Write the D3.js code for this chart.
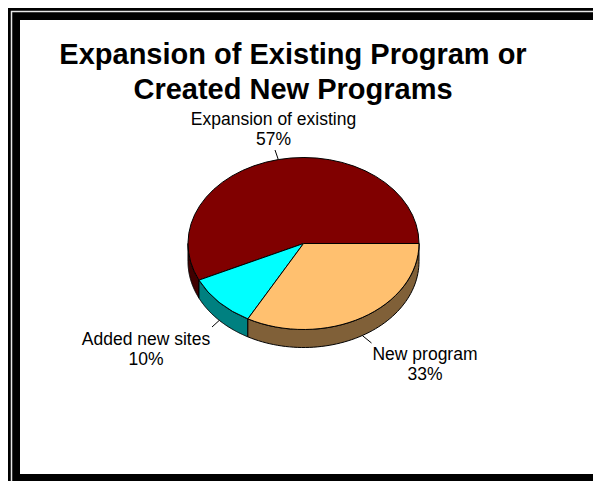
<!DOCTYPE html>
<html>
<head>
<meta charset="utf-8">
<script src="https://cdn.jsdelivr.net/npm/d3@7"></script>
<style>
  html, body { margin: 0; padding: 0; background: #fff; }
  svg { display: block; }
  text { font-family: "Liberation Sans", Arial, sans-serif; }
</style>
</head>
<body>
<script>
// Survey result: how programs grew
const categories = ["Expansion of existing", "Added new sites", "New program"];
const values = [57, 10, 33];
const percentLabels = ["57%", "10%", "33%"];
const titleLines = ["Expansion of Existing Program or", "Created New Programs"];
const topColors = ["#800000", "#00FFFF", "#FFC06F"];
const sideColors = ["#400000", "#008080", "#806038"];

const W = 593, H = 481;
const svg = d3.select("body").append("svg").attr("width", W).attr("height", H);

// Double frame around the chart area
svg.append("rect").attr("x", 8).attr("y", 8).attr("width", W + 20).attr("height", H + 20).attr("fill", "#000");
svg.append("rect").attr("x", 11.5).attr("y", 11.5).attr("width", W + 20).attr("height", H + 20)
  .attr("fill", "none").attr("stroke", "#e8e8e8").attr("stroke-width", 1.5);
svg.append("rect").attr("x", 20).attr("y", 20).attr("width", W - 20).attr("height", 454).attr("fill", "#fff");

// Title
svg.append("g").selectAll("text").data(titleLines).join("text")
  .attr("x", 293).attr("y", (d, i) => 64 + i * 35)
  .attr("text-anchor", "middle")
  .attr("font-size", "29px").attr("font-weight", "bold").attr("fill", "#000")
  .text(d => d);

// 3D pie geometry
const cx = 303.5, cy = 243.5, rx = 115.5, ry = 86, depth = 18;

// Slices run counter-clockwise from 3 o'clock
const pie = d3.pie().sort(null).value(d => d)
  .startAngle(Math.PI / 2).endAngle(Math.PI / 2 - 2 * Math.PI);
const arcs = pie(values);

const pt = (a, dy) => [cx + rx * Math.sin(a), cy - ry * Math.cos(a) + dy];

// Side walls: only the front half of the rim is visible
const sideG = svg.append("g");
arcs.forEach((d, i) => {
  const lo = Math.min(d.startAngle, d.endAngle), hi = Math.max(d.startAngle, d.endAngle);
  const a0 = Math.max(lo, -3 * Math.PI / 2), a1 = Math.min(hi, -Math.PI / 2);
  if (a1 <= a0) return;
  const n = 60;
  const angles = d3.range(n + 1).map(k => a0 + (a1 - a0) * k / n);
  const pts = angles.map(a => pt(a, 0)).concat(angles.slice().reverse().map(a => pt(a, depth)));
  sideG.append("path")
    .attr("d", d3.line()(pts) + "Z")
    .attr("fill", sideColors[i]).attr("stroke", "#000").attr("stroke-width", 1)
    .attr("stroke-linejoin", "round");
});

// Top faces: circular arcs squashed into an ellipse
const arcGen = d3.arc().innerRadius(0).outerRadius(rx);
svg.append("g").attr("transform", `translate(${cx},${cy}) scale(1,${ry / rx})`)
  .selectAll("path").data(arcs).join("path")
  .attr("d", arcGen)
  .attr("fill", (d, i) => topColors[i])
  .attr("stroke", "#000").attr("stroke-width", 1)
  .attr("vector-effect", "non-scaling-stroke")
  .attr("stroke-linejoin", "round");

// Data labels with short leader lines
const labelPos = [
  { x: 273.5, y: 125, lx: 275, ly: 150 },
  { x: 146, y: 345, lx: 212, ly: 327 },
  { x: 425, y: 360, lx: 371.5, ly: 343 }
];
const labelG = svg.append("g");
arcs.forEach((d, i) => {
  const mid = (d.startAngle + d.endAngle) / 2;
  const front = Math.cos(mid) < 0;
  const anchor = pt(mid, front ? depth : 0);
  const p = labelPos[i];
  labelG.append("line")
    .attr("x1", anchor[0]).attr("y1", anchor[1])
    .attr("x2", p.lx).attr("y2", p.ly)
    .attr("stroke", "#000").attr("stroke-width", 1);
  const t = labelG.append("text")
    .attr("text-anchor", "middle").attr("font-size", "17.5px").attr("fill", "#000");
  t.append("tspan").attr("x", p.x).attr("y", p.y).text(categories[i]);
  t.append("tspan").attr("x", p.x).attr("y", p.y + 20).text(percentLabels[i]);
});
</script>
</body>
</html>
